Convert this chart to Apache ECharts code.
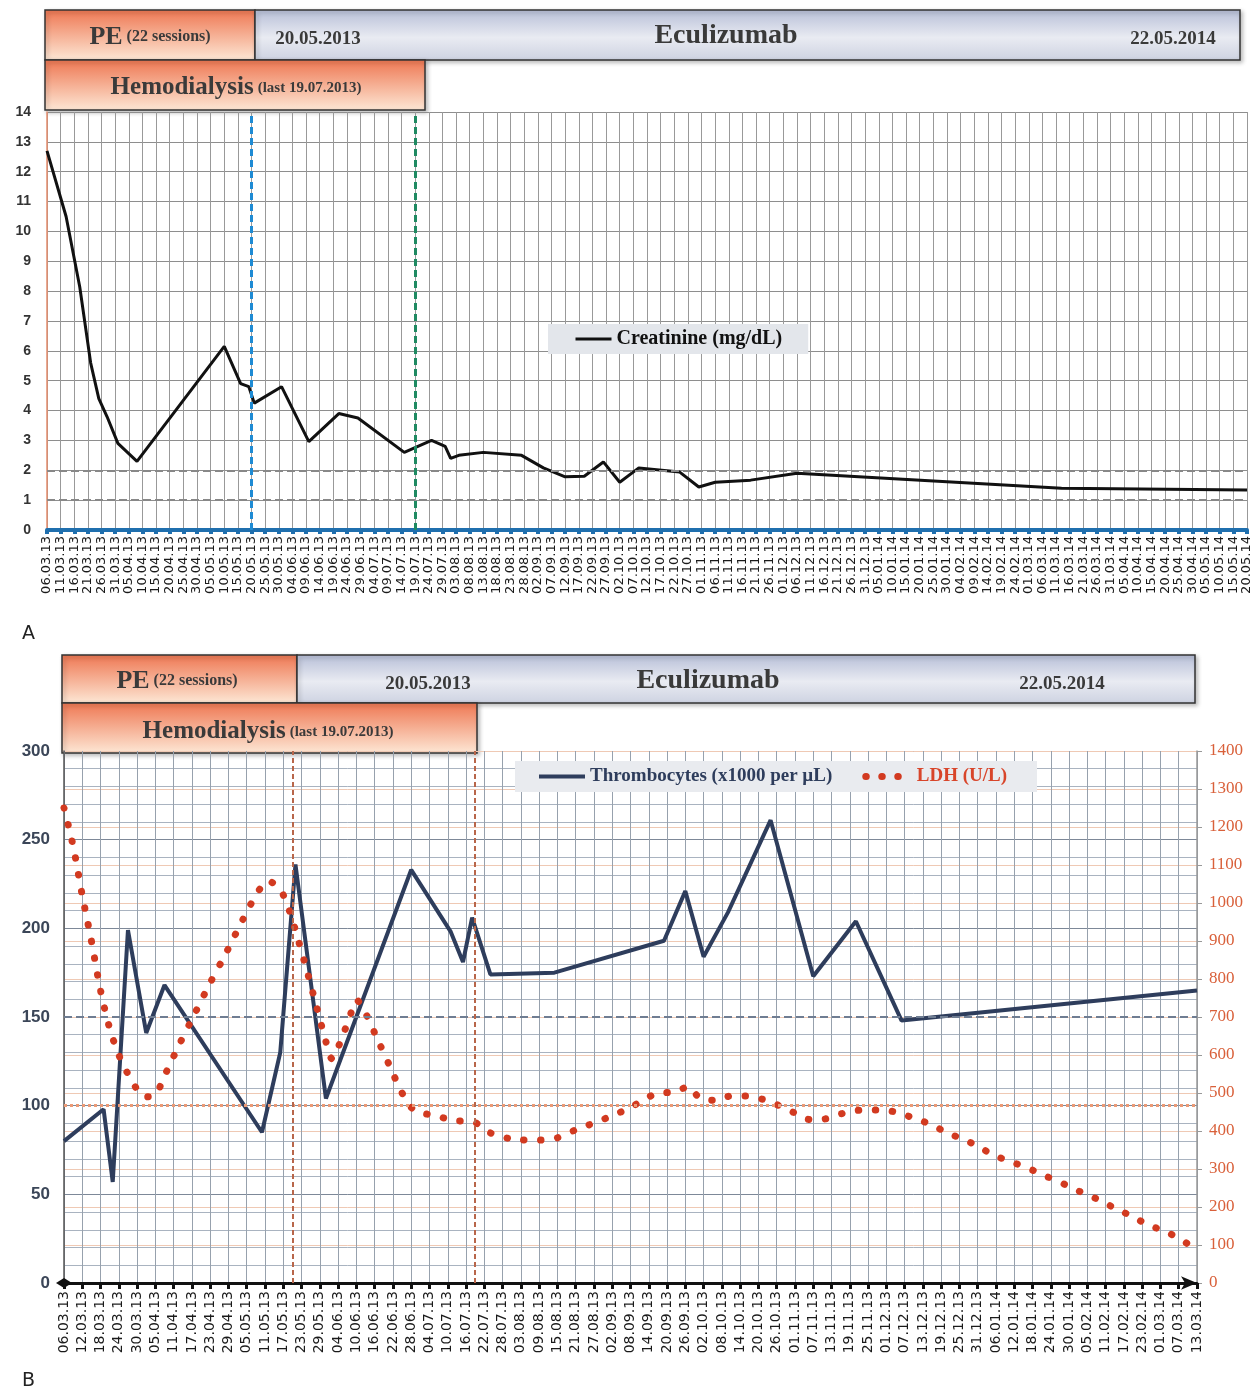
<!DOCTYPE html>
<html>
<head>
<meta charset="utf-8">
<script src="https://cdn.jsdelivr.net/npm/echarts@6/dist/echarts.min.js"></script>
<style>
html, body { margin: 0; padding: 0; background: #fff; }
#chart { width: 1259px; height: 1393px; }
</style>
</head>
<body>
<div id="chart"></div>
<script>
// ---- panel A : creatinine ----
var creatDates = ['06.03.13', '13.03.13', '18.03.13', '22.03.13', '25.03.13', '28.03.13', '01.04.13', '08.04.13',
    '10.05.13', '16.05.13', '19.05.13', '21.05.13', '31.05.13', '10.06.13', '21.06.13', '28.06.13', '15.07.13',
    '25.07.13', '30.07.13', '01.08.13', '04.08.13', '13.08.13', '27.08.13', '04.09.13', '12.09.13', '19.09.13',
    '26.09.13', '02.10.13', '09.10.13', '24.10.13', '31.10.13', '06.11.13', '19.11.13', '06.12.13', '13.03.14', '20.05.14'];
var creatValues = [12.7, 10.5, 8.15, 5.6, 4.4, 3.8, 2.9, 2.3,
    6.15, 4.9, 4.8, 4.25, 4.8, 2.96, 3.9, 3.75, 2.6,
    3.0, 2.8, 2.4, 2.5, 2.6, 2.5, 2.08, 1.78, 1.8,
    2.28, 1.6, 2.08, 1.94, 1.44, 1.6, 1.67, 1.9, 1.4, 1.34];

// ---- panel B : thrombocytes ----
var plateletDates = ['06.03.13', '19.03.13', '22.03.13', '27.03.13', '02.04.13', '08.04.13', '10.05.13', '16.05.13',
    '21.05.13', '31.05.13', '28.06.13', '11.07.13', '15.07.13', '18.07.13', '24.07.13', '14.08.13', '19.09.13',
    '26.09.13', '02.10.13', '10.10.13', '24.10.13', '07.11.13', '21.11.13', '06.12.13', '13.03.14'];
var plateletValues = [80, 98, 57, 199, 141, 168, 85, 130,
    236, 104, 233, 198, 181, 206, 174, 175, 193,
    221, 184, 209, 261, 173, 204, 148, 165];

// ---- panel B : LDH ----
var ldhDates = ['06.03.13', '09.03.13', '12.03.13', '15.03.13', '18.03.13', '21.03.13', '24.03.13', '27.03.13',
    '30.03.13', '02.04.13', '05.04.13', '08.04.13', '13.04.13', '18.04.13', '23.04.13', '28.04.13', '03.05.13',
    '08.05.13', '12.05.13', '16.05.13', '19.05.13', '22.05.13', '25.05.13', '28.05.13', '31.05.13', '02.06.13',
    '05.06.13', '08.06.13', '10.06.13', '13.06.13', '17.06.13', '21.06.13', '25.06.13', '29.06.13', '06.07.13',
    '12.07.13', '19.07.13', '24.07.13', '01.08.13', '09.08.13', '15.08.13', '21.08.13', '26.08.13', '01.09.13',
    '07.09.13', '12.09.13', '17.09.13', '22.09.13', '27.09.13', '01.10.13', '06.10.13', '11.10.13', '16.10.13',
    '22.10.13', '27.10.13', '01.11.13', '06.11.13', '11.11.13', '17.11.13', '23.11.13', '29.11.13', '04.12.13',
    '10.12.13', '16.12.13', '21.12.13', '27.12.13', '01.01.14', '06.01.14', '12.01.14', '18.01.14', '23.01.14',
    '29.01.14', '03.02.14', '09.02.14', '14.02.14', '20.02.14', '25.02.14', '03.03.14', '08.03.14', '12.03.14'];
var ldhValues = [1250, 1150, 1020, 900, 770, 670, 600, 550,
    510, 490, 495, 545, 630, 710, 790, 865, 945,
    1020, 1058, 1035, 980, 900, 815, 725, 635, 590,
    640, 705, 745, 710, 640, 570, 500, 455, 440,
    428, 422, 395, 378, 376, 382, 403, 418, 437,
    458, 480, 500, 502, 516, 485, 481, 492, 492,
    482, 466, 447, 430, 432, 447, 455, 455, 450,
    434, 416, 395, 376, 355, 334, 316, 297, 279,
    258, 239, 218, 197, 174, 153, 134, 113, 92];

// treatment markers (20.05.2013 start eculizumab, 19.07.2013 last hemodialysis)
var eculizumabStart = '20.05.13';
var lastDialysis = '19.07.13';

var START = Date.UTC(2013, 2, 6);
function toDay(s) {
    var p = s.split('.');
    return Math.round((Date.UTC(2000 + Number(p[2]), Number(p[1]) - 1, Number(p[0])) - START) / 86400000);
}
function pad(n) { return (n < 10 ? '0' : '') + n; }
function fromDay(d) {
    var t = new Date(START + d * 86400000);
    return pad(t.getUTCDate()) + '.' + pad(t.getUTCMonth() + 1) + '.' + String(t.getUTCFullYear()).slice(2);
}
function pairs(dates, values) {
    return dates.map(function (d, i) { return [toDay(d), values[i]]; });
}

var serif = '"Liberation Serif", "DejaVu Serif", serif';
var orangeFill = new echarts.graphic.LinearGradient(0, 0, 0, 1, [
    { offset: 0, color: '#ee7651' }, { offset: 1, color: '#fde8d6' }]);
var blueFill = new echarts.graphic.LinearGradient(0, 0, 0, 1, [
    { offset: 0, color: '#b6bed7' }, { offset: 0.55, color: '#e9ebf2' }, { offset: 1, color: '#cdd2e1' }]);

function box(x, y, w, h, fill) {
    return {
        type: 'rect', shape: { x: x, y: y, width: w, height: h },
        style: { fill: fill, stroke: '#333', lineWidth: 1.5, shadowBlur: 4, shadowOffsetX: 2, shadowOffsetY: 2, shadowColor: 'rgba(0,0,0,0.25)' }
    };
}
function label(x, y, text) {
    return {
        type: 'text', x: x, y: y,
        style: { text: text, align: 'center', verticalAlign: 'middle', fill: '#3a3a3a', font: 'bold 16px ' + serif, rich: headRich }
    };
}
function rs(size) {
    return { fontFamily: serif, fontWeight: 'bold', fontSize: size, fill: '#3a3a3a', color: '#3a3a3a' };
}
var headRich = { big: rs(26), small: rs(16), hemo: rs(25), tiny: rs(15), mid: rs(19), title: rs(28) };

var graphics = [
    // panel A headers
    box(45, 10, 210, 50, orangeFill),
    box(255, 10, 985, 50, blueFill),
    box(45, 60, 380, 50, orangeFill),
    label(150, 37, '{big|PE} {small|(22 sessions)}'),
    label(318, 39, '{mid|20.05.2013}'),
    label(726, 36, '{title|Eculizumab}'),
    label(1173, 39, '{mid|22.05.2014}'),
    label(236, 88, '{hemo|Hemodialysis} {tiny|(last 19.07.2013)}'),
    // panel B headers
    box(62, 655, 235, 48, orangeFill),
    box(297, 655, 898, 48, blueFill),
    box(62, 703, 415, 50, orangeFill),
    label(177, 681, '{big|PE} {small|(22 sessions)}'),
    label(428, 684, '{mid|20.05.2013}'),
    label(708, 681, '{title|Eculizumab}'),
    label(1062, 684, '{mid|22.05.2014}'),
    label(268, 732, '{hemo|Hemodialysis} {tiny|(last 19.07.2013)}'),
    // panel letters
    { type: 'text', x: 22, y: 625, style: { text: 'A', font: '19px "DejaVu Sans", sans-serif', fill: '#222' } },
    { type: 'text', x: 22, y: 1372, style: { text: 'B', font: '19px "DejaVu Sans", sans-serif', fill: '#222' } }
];

var chart = echarts.init(document.getElementById('chart'));
chart.setOption({
    animation: false,
    backgroundColor: '#fff',
    graphic: graphics,
    grid: [
        { left: 47, right: 12, top: 112, bottom: 863 },
        { left: 64, right: 62, top: 751, bottom: 110 }
    ],
    legend: [
        {
            left: 548, top: 324, padding: [5, 26], itemGap: 4, itemWidth: 36, itemHeight: 10,
            backgroundColor: '#e3e6eb',
            itemStyle: { opacity: 0 },
            data: [{ name: 'Creatinine (mg/dL)', textStyle: { color: '#111' }, lineStyle: { width: 3, color: '#111' } }],
            textStyle: { fontFamily: serif, fontWeight: 'bold', fontSize: 20 }
        },
        {
            left: 515, top: 761, padding: [6, 30, 6, 22], itemGap: 30, itemWidth: 46, itemHeight: 10,
            backgroundColor: '#e9ebef',
            itemStyle: { opacity: 0 },
            data: [
                { name: 'Thrombocytes (x1000 per µL)', textStyle: { color: '#2e3d5c' }, lineStyle: { width: 4, color: '#2e3d5c' } },
                { name: 'LDH (U/L)', textStyle: { color: '#d8452a' }, lineStyle: { width: 7, color: '#d23a20', type: [0.5, 15.5], cap: 'round' } }
            ],
            textStyle: { fontFamily: serif, fontWeight: 'bold', fontSize: 19 }
        }
    ],
    xAxis: [
        {
            type: 'value', gridIndex: 0, min: 0, max: 440, interval: 5,
            axisLine: { lineStyle: { color: '#1f6fae', width: 4 } },
            axisTick: { length: 4, lineStyle: { color: '#1f6fae', width: 4 } },
            axisLabel: { rotate: 90, fontSize: 13, color: '#1a1a1a', fontFamily: '"DejaVu Sans", sans-serif', formatter: fromDay, margin: 6, showMinLabel: true, showMaxLabel: true, hideOverlap: false },
            splitLine: { show: true, lineStyle: { color: '#999', width: 1 } }
        },
        {
            type: 'value', gridIndex: 1, min: 0, max: 372, interval: 6,
            axisLine: { symbol: ['diamond', 'arrow'], symbolSize: [10, 16], lineStyle: { color: '#111', width: 3 } },
            axisTick: { length: 6, lineStyle: { color: '#111', width: 3 } },
            axisLabel: { rotate: 90, fontSize: 14, color: '#1a1a1a', fontFamily: '"DejaVu Sans", sans-serif', formatter: fromDay, margin: 8, showMinLabel: true, showMaxLabel: true },
            splitLine: { show: true, lineStyle: { color: '#97a1ad', width: 1 } }
        }
    ],
    yAxis: [
        {
            type: 'value', gridIndex: 0, min: 0, max: 14, interval: 1,
            axisLine: { show: true, lineStyle: { color: '#e58c6c', width: 1.5 } },
            axisTick: { show: false },
            axisLabel: { fontSize: 14, fontWeight: 'bold', color: '#333', fontFamily: '"Liberation Sans", sans-serif', margin: 16 },
            splitLine: { lineStyle: { color: '#8e8e8e', width: 1 } }
        },
        {
            type: 'value', gridIndex: 1, min: 0, max: 300, interval: 50, position: 'left',
            axisLine: { show: true, lineStyle: { color: '#555', width: 1.5 } },
            axisTick: { show: false },
            minorTick: { show: false, splitNumber: 5 },
            minorSplitLine: { show: true, lineStyle: { color: '#a9b3c0', width: 1 } },
            axisLabel: { fontSize: 17, fontWeight: 'bold', color: '#3b4658', fontFamily: '"Liberation Sans", sans-serif', margin: 14 },
            splitLine: { lineStyle: { color: '#7d8898', width: 1 } }
        },
        {
            type: 'value', gridIndex: 1, min: 0, max: 1400, interval: 100, position: 'right',
            axisLine: { show: true, lineStyle: { color: '#999', width: 1.5 } },
            axisTick: { show: true, length: 5, lineStyle: { color: '#999' } },
            axisLabel: { fontSize: 17, color: '#d9603a', fontFamily: serif, margin: 12, formatter: function (v) { return String(v); } },
            splitLine: { lineStyle: { color: '#efc9b4', width: 1 } }
        }
    ],
    series: [
        {
            name: 'Creatinine (mg/dL)', type: 'line', xAxisIndex: 0, yAxisIndex: 0,
            data: pairs(creatDates, creatValues), symbol: 'none',
            lineStyle: { color: '#111', width: 3 }, itemStyle: { color: '#111' },
            markLine: {
                symbol: 'none', silent: true, label: { show: false },
                data: [
                    { yAxis: 2, lineStyle: { color: '#888', type: [8, 4], width: 2 } },
                    { yAxis: 1, lineStyle: { color: '#888', type: [8, 4], width: 2 } },
                    { xAxis: toDay(eculizumabStart), lineStyle: { color: '#1e8bd4', type: [7, 4], width: 3 } },
                    { xAxis: toDay(lastDialysis), lineStyle: { color: '#1f8a62', type: [7, 4], width: 3 } }
                ]
            }
        },
        {
            name: 'Thrombocytes (x1000 per µL)', type: 'line', xAxisIndex: 1, yAxisIndex: 1,
            data: pairs(plateletDates, plateletValues), symbol: 'none',
            lineStyle: { color: '#2e3d5c', width: 4 }, itemStyle: { color: '#2e3d5c' },
            markLine: {
                symbol: 'none', silent: true, label: { show: false },
                data: [
                    { yAxis: 150, lineStyle: { color: '#6f7d92', type: [8, 4], width: 2 } },
                    { yAxis: 100, lineStyle: { color: '#eb9a76', type: [3, 3], width: 3 } },
                    { xAxis: toDay(eculizumabStart), lineStyle: { color: '#b8664a', type: [5, 3], width: 2 } },
                    { xAxis: toDay(lastDialysis), lineStyle: { color: '#b8664a', type: [5, 3], width: 2 } }
                ]
            }
        },
        {
            name: 'LDH (U/L)', type: 'line', xAxisIndex: 1, yAxisIndex: 2,
            data: pairs(ldhDates, ldhValues), symbol: 'none', smooth: 0.3,
            lineStyle: { color: '#d23a20', width: 7, type: [0.5, 16.5], cap: 'round' },
            itemStyle: { color: '#d23a20' }
        }
    ]
});
</script>
</body>
</html>
